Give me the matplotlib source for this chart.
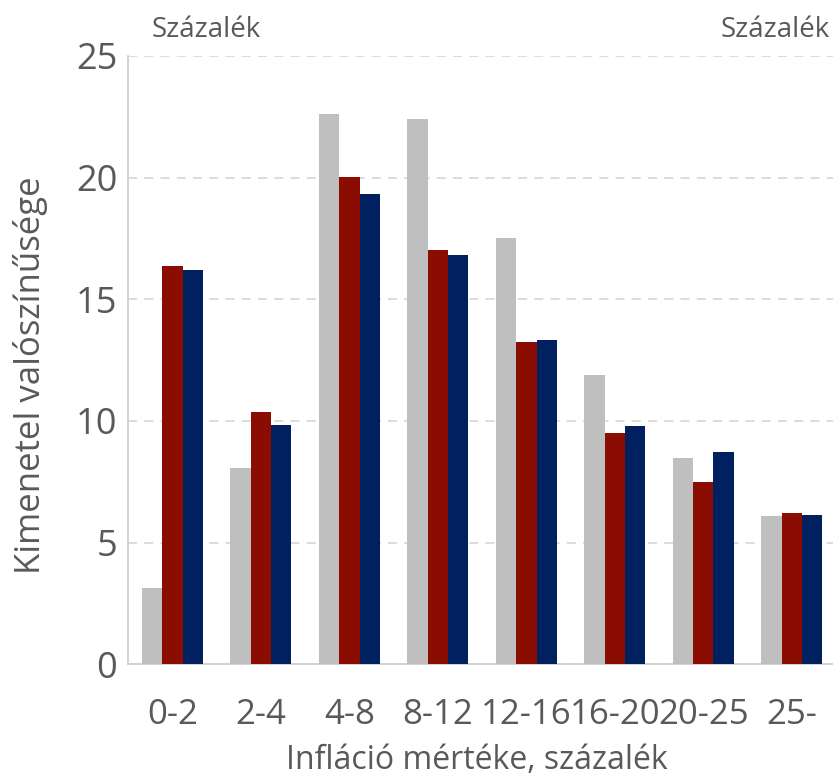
import matplotlib
matplotlib.use("Agg")
import matplotlib.pyplot as plt
import numpy as np

categories = ["0-2", "2-4", "4-8", "8-12", "12-16", "16-20", "20-25", "25-"]
series_gray = [3.14, 8.08, 22.6, 22.4, 17.52, 11.89, 8.47, 6.11]
series_red = [16.36, 10.36, 20.03, 17.04, 13.23, 9.52, 7.5, 6.23]
series_blue = [16.2, 9.85, 19.34, 16.82, 13.33, 9.79, 8.74, 6.14]
yticks = [0, 5, 10, 15, 20, 25]

plt.rcParams['font.family'] = ['Open Sans', 'DejaVu Sans']
TXT = "#595959"

fig = plt.figure(figsize=(8.33, 7.82), dpi=100)
ax = fig.add_axes([0.154, 0.1505, 0.8496, 0.7779])

x = np.arange(len(categories))
w = 0.23
ax.bar(x - w, series_gray, w, color="#bfbfbf", zorder=3)
ax.bar(x, series_red, w, color="#8b0c00", zorder=3)
ax.bar(x + w, series_blue, w, color="#002060", zorder=3)

ax.set_xlim(-0.5, len(categories) - 0.5)
ax.set_ylim(0, 25)
ax.set_yticks(yticks)
ax.set_xticks(x)
ax.set_xticklabels(categories, fontsize=25, color=TXT)
ax.tick_params(axis='y', labelsize=26, length=0, pad=8, labelcolor=TXT)
ax.tick_params(axis='x', length=0, pad=24, labelcolor=TXT)
ax.yaxis.grid(True, linestyle=(0, (5, 4)), color="#d9d9d9", linewidth=1.3, zorder=0)
for s in ['top', 'right']:
    ax.spines[s].set_visible(False)
for s in ['left', 'bottom']:
    ax.spines[s].set_color("#d0d0d0")
    ax.spines[s].set_linewidth(1.3)

fig.text(0.037, 0.52, "Kimenetel valószínűsége", fontsize=25, rotation=90,
         ha='center', va='center', color=TXT)
fig.text(0.572, 0.016, "Infláció mértéke, százalék", fontsize=23,
         ha='center', va='baseline', color=TXT)

fig.text(0.182, 0.9523, "Százalék", fontsize=20, ha='left', va='baseline', color=TXT)
fig.text(0.996, 0.9523, "Százalék", fontsize=20, ha='right', va='baseline', color=TXT)

fig.savefig("out.png", dpi=100)
